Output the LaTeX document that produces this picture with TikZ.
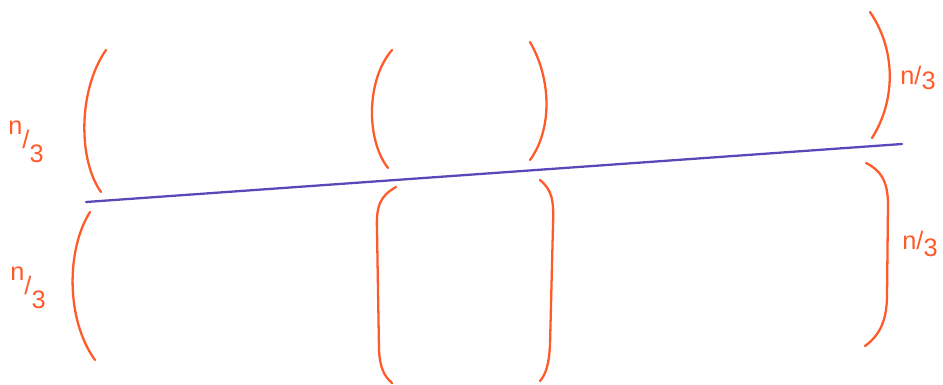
\documentclass[tikz,border=0pt]{standalone}
\usepackage{fontspec}
\setmainfont{Liberation Sans}
\definecolor{pen}{HTML}{FF5A2A}
\definecolor{cut}{HTML}{5A48B8}

\begin{document}
\begin{tikzpicture}[
    x=0.02cm, y=-0.02cm,
    paren/.style={draw=pen, line width=1.3pt, line cap=round},
    split/.style={draw=cut, line width=1.3pt, line cap=round},
    third/.style={text=pen, font=\Large, inner sep=1pt},
]

    \useasboundingbox (0,0) rectangle (943,385);

    % left brackets
    \draw[paren] (106,50) .. controls (78,90) and (78,160) .. (101,192);
    \draw[paren] (90,212) .. controls (66,250) and (66,320) .. (95,360);

    % middle pair, upper half
    \draw[paren] (392,50) .. controls (366,80) and (366,140) .. (388,168);
    \draw[paren] (530,42) .. controls (552,80) and (552,130) .. (530,160);

    % middle pair, lower half
    \draw[paren] (396,187) .. controls (380,196) and (376,206) .. (377,230)
        -- (379,350) .. controls (380,368) and (384,376) .. (392,383);
    \draw[paren] (540,180) .. controls (552,190) and (554,200) .. (553,225)
        -- (550,345) .. controls (549,364) and (546,374) .. (540,381);

    % right brackets
    \draw[paren] (870,12) .. controls (896,50) and (896,100) .. (872,138);
    \draw[paren] (866,163) .. controls (880,170) and (888,180) .. (888,205)
        -- (887,295) .. controls (887,320) and (880,335) .. (865,346);

    % dividing line
    \coordinate (cutL) at (86,202);
    \coordinate (cutR) at (902,144);
    \draw[split] (cutL) -- (cutR);

    % labels
    \node[third] (lt) at (26,142) {\raisebox{8pt}{n}/\raisebox{-8pt}{3}};
    \node[third] (lb) at (28,288) {\raisebox{8pt}{n}/\raisebox{-8pt}{3}};
    \node[third] (rt) at (918,78) {n/\raisebox{-3pt}{3}};
    \node[third] (rb) at (920,244) {n/\raisebox{-4pt}{3}};

\end{tikzpicture}
\end{document}
